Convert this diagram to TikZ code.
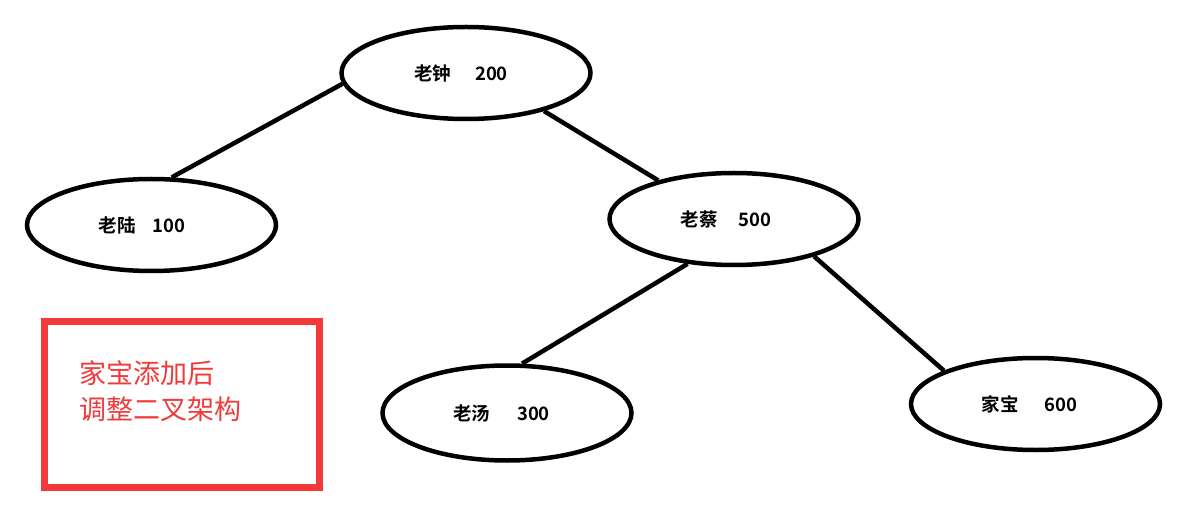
\documentclass[tikz,border=0pt]{standalone}
\usepackage{fontspec}
\newfontfamily\cjk{Noto Sans CJK SC}
\newfontfamily\cjkbold{Noto Sans CJK SC Bold}
\usetikzlibrary{shapes.geometric}
\definecolor{notered}{RGB}{242,58,58}
\begin{document}
\begin{tikzpicture}[x=1pt,y=-1pt,
  person/.style={ellipse,draw=black,line width=4.5pt,minimum width=249pt,
    minimum height=92pt,inner sep=0pt,font=\cjkbold\fontsize{18.5}{21}\selectfont},
  edge/.style={line width=4.5pt}]
\useasboundingbox (0,0) rectangle (1191,521);
\fill[white] (0,0) rectangle (1191,521);

% tree nodes (the trailing kern moves each label a little left of centre)
\node[person] (zhong) at (466,73)   {老钟\kern24pt 200\kern10pt};
\node[person] (lu)    at (151.5,225) {老陆\kern17pt 100\kern19pt};
\node[person] (cai)   at (734,219)  {老蔡\kern21pt 500\kern16pt};
\node[person,minimum height=95pt] (tang) at (507,413) {老汤\kern27pt 300\kern11pt};
\node[person] (jiabao) at (1035.5,404) {家宝\kern26pt 600\kern12pt};

% branches
\draw[edge] (zhong.185) -- (lu.67);
\draw[edge] (zhong.334) -- (cai.153);
\draw[edge] (cai.224) -- (tang.73);
\draw[edge] (cai.335) -- (jiabao.160);

% note box
\node[draw=notered,line width=7pt,minimum width=275pt,minimum height=166pt,
  inner sep=0pt] (notebox) at (182,404.5) {};
\node[anchor=north west,inner sep=0pt,align=left,text=notered,
  font=\cjk\fontsize{27}{36}\selectfont] (notetext) at (79,360)
  {家宝添加后\\调整二叉架构};
\end{tikzpicture}
\end{document}
